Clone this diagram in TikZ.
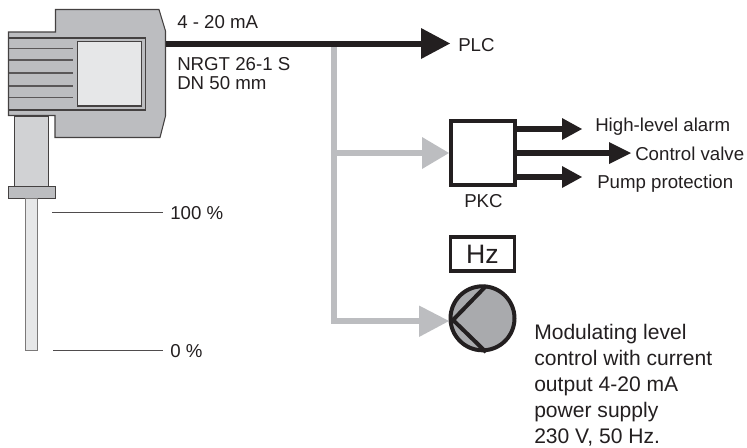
\documentclass[tikz,border=0pt]{standalone}
\usepackage{fontspec}
\setmainfont{Liberation Sans}
\definecolor{hgray}{HTML}{BCBDC0}
\definecolor{dgray}{HTML}{D1D2D4}
\definecolor{lgray}{HTML}{E6E7E8}
\definecolor{pgray}{HTML}{A9AAAD}
\definecolor{ink}{HTML}{231F20}
\definecolor{arrgray}{HTML}{BCBDC0}
\tikzset{
  x=0.75pt,y=-0.75pt,
  outl/.style={draw=ink!85,line width=0.8pt},
  lab/.style={anchor=base west,inner sep=0pt,text=ink,font=\fontsize{14pt}{16pt}\selectfont},
  modlab/.style={anchor=base west,inner sep=0pt,text=ink,font=\fontsize{15.8pt}{18pt}\selectfont},
  blackline/.style={draw=ink,line width=4.5pt},
  outline/.style={draw=ink,line width=5.2pt},
  grayline/.style={draw=arrgray,line width=4.5pt},
  head/.style={fill=ink,draw=none},
  ghead/.style={fill=arrgray,draw=none},
  tick/.style={draw=ink!80,line width=0.6pt}
}
\begin{document}
\begin{tikzpicture}
\useasboundingbox (0,0) rectangle (747,447);
% housing
\draw[outl,fill=hgray] (55.5,9.5) -- (159,9.5) -- (165.5,31) -- (165.5,116) -- (160,137.5) -- (55,137.5) -- (55,115.5) -- (8.5,115.5) -- (8.5,32) -- (55.5,32) -- cycle;
\draw[outl] (8.5,38) -- (145.5,38) -- (145.5,110) -- (8.5,110);
\draw[outl,fill=lgray,line width=1pt] (77.5,41.5) rectangle (141.5,106);
\foreach \yy in {48.5,60,73,86,97.5} \draw[draw=ink!75,line width=0.8pt] (8.5,\yy) -- (72.5,\yy);
% stem
\draw[outl,fill=dgray] (14.5,116) rectangle (48.5,186.5);
\draw[outl,fill=hgray] (8.5,186.5) rectangle (55.5,198.5);
\draw[draw=ink!60,line width=0.9pt,fill=lgray] (25.5,198.5) rectangle (37.5,350.5);
% ticks
\coordinate (t1) at (52,212.5); \coordinate (t2) at (163,212.5);
\coordinate (z1) at (53,350); \coordinate (z2) at (163,350);
\draw[tick] (t1) -- (t2);
\draw[tick] (z1) -- (z2);
\node[lab] (full) at (170,219) {100 \%};
\node[lab] (zero) at (170,357) {0 \%};
% gray lines
\coordinate (gtop) at (334,44);
\coordinate (g1) at (334,153);
\coordinate (g2) at (334,321);
\node[draw=ink,line width=3pt,minimum width=48pt,minimum height=48pt,inner sep=0pt] (pkc) at (482.5,153) {};
\node[draw=ink,line width=2.3pt,minimum width=48pt,minimum height=25.5pt,inner sep=0pt,font=\fontsize{20pt}{22pt}\selectfont,text=ink] (hz) at (482.5,254) {Hz};
\node[draw=ink,line width=3pt,fill=pgray,circle,minimum size=48pt,inner sep=0pt] (pump) at (482.5,318.3) {};
\draw[grayline,line join=miter] (gtop) -- (g2) -- (425,321);
\draw[grayline] (g1) -- (425,153);
\fill[ghead] (422,137) -- (449,153) -- (422,169) -- cycle;
\fill[ghead] (419,305.5) -- (449,321) -- (419,337) -- cycle;
% pump mark
\draw[draw=ink,line width=3pt,line join=miter] (486,286) -- (453,320) -- (486,352);
% black output
\coordinate (outs) at (165.5,43.5);
\coordinate (plc) at (450,43.5);
\coordinate (plcs) at (425,43.5);
\draw[blackline] (outs) -- (plcs);
\fill[head] (421,28) -- (plc) -- (421,59) -- cycle;
% PKC outputs
\coordinate (a1) at (582,129); \coordinate (a2) at (631,153); \coordinate (a3) at (582,177);
\coordinate (s1) at (565,129); \coordinate (s2) at (612,153); \coordinate (s3) at (565,177);
\draw[outline] (pkc.east |- a1) -- (s1);
\draw[outline] (pkc.east |- a2) -- (s2);
\draw[outline] (pkc.east |- a3) -- (s3);
\fill[head] (562,118) -- (a1) -- (562,140) -- cycle;
\fill[head] (609,142) -- (a2) -- (609,164) -- cycle;
\fill[head] (562,166) -- (a3) -- (562,188) -- cycle;
% labels
\node[lab] (t4) at (177,28) {4 - 20 mA};
\node[lab] (t5) at (177,70.7) {NRGT 26-1 S};
\node[lab] (t6) at (177,89.3) {DN 50 mm};
\node[lab] (tplc) at (458,51.5) {PLC};
\node[lab] (thi) at (595,131.5) {High-level alarm};
\node[lab] (tcv) at (635,160) {Control valve};
\node[lab] (tpp) at (597,188) {Pump protection};
\node[lab] (tpkc) at (464,207) {PKC};
\node[modlab] (m1) at (534,339) {Modulating level};
\node[modlab] (m2) at (534,365) {control with current};
\node[modlab] (m3) at (534,391) {output 4-20 mA};
\node[modlab] (m4) at (534,417) {power supply};
\node[modlab] (m5) at (534,443) {230 V, 50 Hz.};
\end{tikzpicture}
\end{document}
